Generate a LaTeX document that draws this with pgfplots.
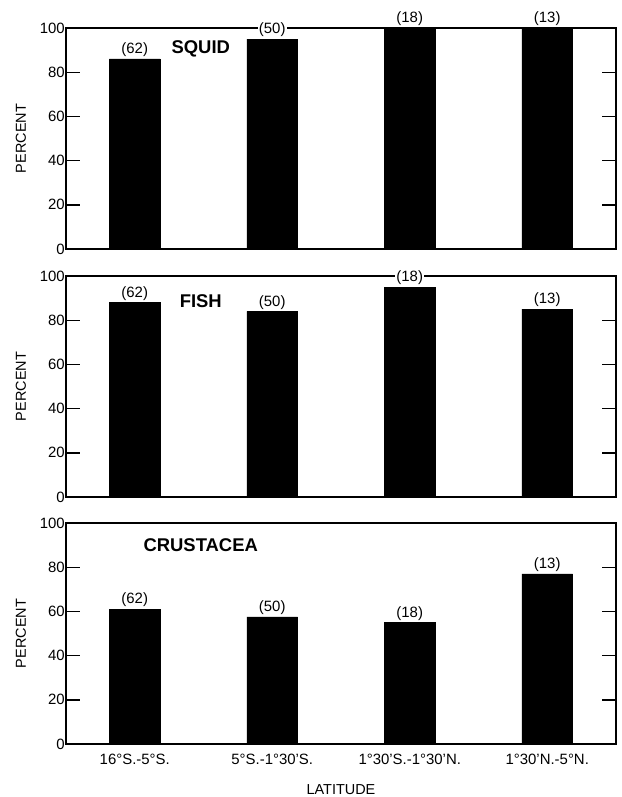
\documentclass[border=0pt]{standalone}
\usepackage{fontspec}
\setmainfont{Liberation Sans}
\usepackage{pgfplots}
\pgfplotsset{compat=1.18}

\pgfplotsset{
  panel/.style={
    scale only axis,
    width=550bp, height=221bp,
    anchor=south west,
    xmin=-0.5, xmax=3.5,
    ymin=0, ymax=100,
    ytick={0,20,...,100},
    xtick={0,1,2,3},
    ytick pos=both, yticklabel pos=left,
    tick align=inside,
    major tick length=14bp,
    major x tick style={draw=none},
    axis line style={line width=1.6bp},
    every tick/.style={line width=1.4bp, black},
    /pgf/number format/assume math mode=true,
    ticklabel style={font=\fontsize{15}{17}\selectfont},
    yticklabel style={inner xsep=1bp},
    ylabel={PERCENT},
    ylabel style={at={(axis description cs:-0.082,0.5)}, anchor=center,
                  font=\fontsize{14.5}{16}\selectfont},
    clip=false,
    ybar, bar width=0.37,
    nodes near coords,
    point meta=explicit symbolic,
    nodes near coords style={font=\fontsize{15}{17}\selectfont, fill=white,
                             inner sep=1bp, anchor=south, yshift=1bp},
  },
  bars/.style={fill=black, draw=black},
}
\tikzset{ttl/.style={font=\fontsize{18.5}{20}\selectfont\bfseries}}

\begin{document}
\begin{tikzpicture}
\path[use as bounding box] (0bp,0bp) rectangle (622bp,-797bp);

% squid
\begin{axis}[panel, at={(66bp,-249bp)}, xticklabels={}]
\addplot[bars] coordinates {(0,86) [(62)] (1,95) [(50)] (2,100) [(18)] (3,100) [(13)]};
\node[ttl] at (rel axis cs:0.245,0.905) {SQUID};
\end{axis}

% fish
\begin{axis}[panel, at={(66bp,-497bp)}, xticklabels={}]
\addplot[bars] coordinates {(0,88) [(62)] (1,84) [(50)] (2,95) [(18)] (3,85) [(13)]};
\node[ttl] at (rel axis cs:0.245,0.887) {FISH};
\end{axis}

% crustacea
\begin{axis}[panel, at={(66bp,-744bp)},
  xticklabels={16°S.-5°S., 5°S.-1°30'S., 1°30'S.-1°30'N., 1°30'N.-5°N.},
  xticklabel style={yshift=7bp},
  xlabel={LATITUDE},
  xlabel style={at={(axis description cs:0.5,0)}, anchor=center, yshift=-46bp,
                font=\fontsize{14.5}{16}\selectfont}]
\addplot[bars] coordinates {(0,61) [(62)] (1,57.5) [(50)] (2,55) [(18)] (3,77) [(13)]};
\node[ttl] at (rel axis cs:0.245,0.90) {CRUSTACEA};
\end{axis}
\end{tikzpicture}
\end{document}
